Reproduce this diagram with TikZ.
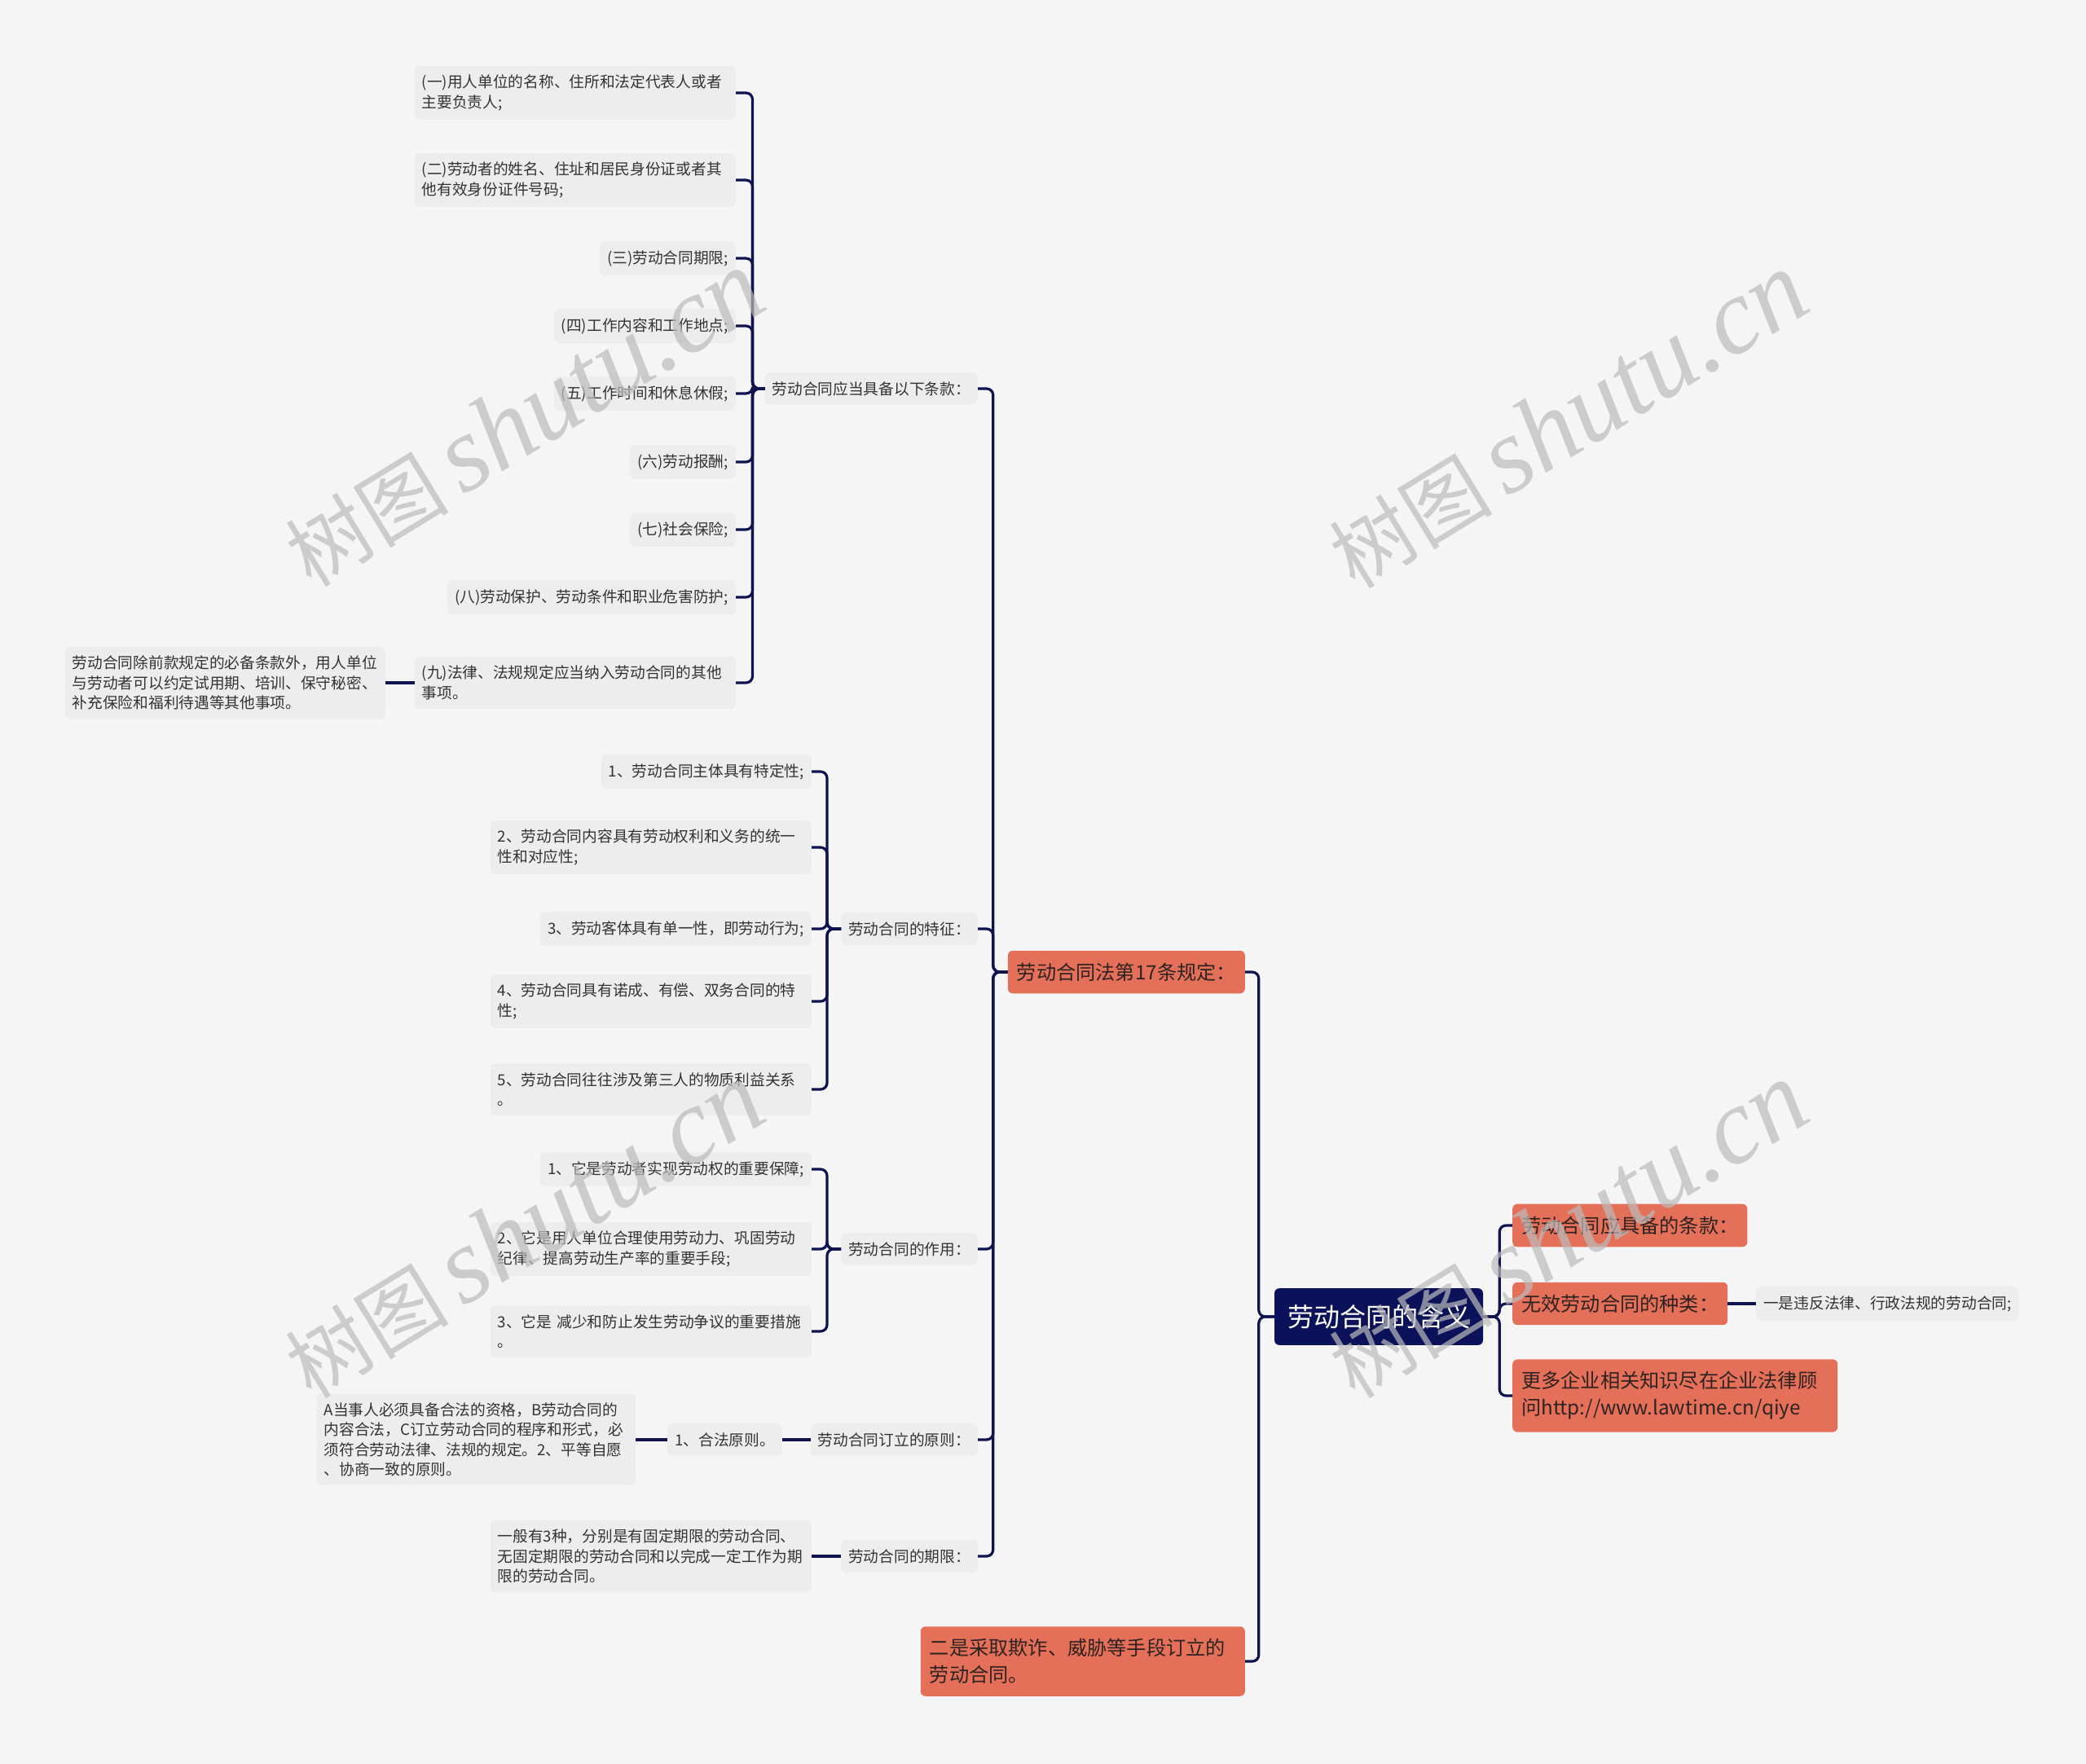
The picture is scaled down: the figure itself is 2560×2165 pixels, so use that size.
\documentclass[tikz,border=0pt]{standalone}
\usepackage{fontspec}
\setmainfont{Noto Sans CJK SC}
\newfontfamily\wmlatin{Liberation Serif}
\usetikzlibrary{positioning}
\definecolor{bg}{HTML}{F5F5F5}
\definecolor{leafgray}{HTML}{EDEDED}
\definecolor{txt}{HTML}{333333}
\definecolor{navy}{HTML}{0F1450}
\definecolor{rootfill}{HTML}{0C1259}
\definecolor{orangefill}{HTML}{E4705A}
\definecolor{otxt}{HTML}{2E2320}
\definecolor{wmgray}{HTML}{BBBBBB}
\tikzset{
  leaf/.style={fill=leafgray, rounded corners=6pt, inner xsep=9pt, inner ysep=11pt,
    font=\fontsize{18.7}{24.5}\selectfont, text=txt, anchor=east},
  mleaf/.style={leaf, align=left, text width=#1},
  obox/.style={fill=orangefill, rounded corners=6pt, inner xsep=11pt, inner ysep=15pt,
    font=\fontsize{24.2}{33}\selectfont, text=otxt},
  rootbox/.style={fill=rootfill, rounded corners=6pt, inner xsep=16pt, inner ysep=20pt,
    font=\fontsize{32}{40}\selectfont, text=white},
  conn/.style={draw=navy, line width=3.2pt, rounded corners=8pt},
  wm/.style={text=wmgray, opacity=0.7, rotate=31.5, inner sep=0pt}
}
\begin{document}
\begin{tikzpicture}[x=1pt,y=-1pt]
\useasboundingbox (0,0) rectangle (2560,2165);
\fill[bg] (0,0) rectangle (2560,2165);

% root
\node[rootbox] (root) at (1692,1616) {劳动合同的含义};

% right side
\node[obox, anchor=west] (r1) at (1856,1504) {劳动合同应具备的条款：};
\node[obox, anchor=west] (r2) at (1856,1600) {无效劳动合同的种类：};
\node[leaf, anchor=west] (r2a) at (2155,1600) {一是违反法律、行政法规的劳动合同;};
\node[obox, anchor=west, align=left, text width=377pt] (r3) at (1856,1713) {更多企业相关知识尽在企业法律顾\\问http://www.lawtime.cn/qiye};

% left of root
\node[obox, anchor=east] (L1) at (1528,1193) {劳动合同法第17条规定：};
\node[obox, anchor=east, align=left, text width=376pt] (L2) at (1528,2039) {二是采取欺诈、威胁等手段订立的\\劳动合同。};

% level 2
\node[leaf] (c) at (1200,477) {劳动合同应当具备以下条款：};
\node[leaf] (f) at (1200,1140) {劳动合同的特征：};
\node[leaf] (z) at (1200,1533) {劳动合同的作用：};
\node[leaf] (p) at (1200,1767) {劳动合同订立的原则：};
\node[leaf] (t) at (1200,1910) {劳动合同的期限：};

% clauses
\node[mleaf=376pt] (c1) at (903,114) {(一)用人单位的名称、住所和法定代表人或者\\主要负责人;};
\node[mleaf=376pt] (c2) at (903,221) {(二)劳动者的姓名、住址和居民身份证或者其\\他有效身份证件号码;};
\node[leaf] (c3) at (903,317) {(三)劳动合同期限;};
\node[leaf] (c4) at (903,400) {(四)工作内容和工作地点;};
\node[leaf] (c5) at (903,483) {(五)工作时间和休息休假;};
\node[leaf] (c6) at (903,567) {(六)劳动报酬;};
\node[leaf] (c7) at (903,650) {(七)社会保险;};
\node[leaf] (c8) at (903,733) {(八)劳动保护、劳动条件和职业危害防护;};
\node[mleaf=376pt] (c9) at (903,838) {(九)法律、法规规定应当纳入劳动合同的其他\\事项。};
\node[mleaf=375pt] (c9a) at (473,838) {劳动合同除前款规定的必备条款外，用人单位\\与劳动者可以约定试用期、培训、保守秘密、\\补充保险和福利待遇等其他事项。};

% features
\node[leaf] (f1) at (996,947) {1、劳动合同主体具有特定性;};
\node[mleaf=376pt] (f2) at (996,1040) {2、劳动合同内容具有劳动权利和义务的统一\\性和对应性;};
\node[leaf] (f3) at (996,1140) {3、劳动客体具有单一性，即劳动行为;};
\node[mleaf=376pt] (f4) at (996,1229) {4、劳动合同具有诺成、有偿、双务合同的特\\性;};
\node[mleaf=376pt] (f5) at (996,1337) {5、劳动合同往往涉及第三人的物质利益关系\\。};

% roles
\node[leaf] (z1) at (996,1435) {1、它是劳动者实现劳动权的重要保障;};
\node[mleaf=376pt] (z2) at (996,1533) {2、它是用人单位合理使用劳动力、巩固劳动\\纪律、提高劳动生产率的重要手段;};
\node[mleaf=376pt] (z3) at (996,1634) {3、它是 减少和防止发生劳动争议的重要措施\\。};

% principles
\node[leaf] (p1) at (960,1767) {1、合法原则。};
\node[mleaf=373pt] (p1a) at (780,1767) {A当事人必须具备合法的资格，B劳动合同的\\内容合法，C订立劳动合同的程序和形式，必\\须符合劳动法律、法规的规定。2、平等自愿\\、协商一致的原则。};

% term
\node[mleaf=376pt] (t1) at (996,1910) {一般有3种，分别是有固定期限的劳动合同、\\无固定期限的劳动合同和以完成一定工作为期\\限的劳动合同。};

% connectors: root
\foreach \n in {L1,L2} \draw[conn] (root.west) -- ++(-19,0) |- (\n.east);
\foreach \n in {r1,r2,r3} \draw[conn] (root.east) -- ++(20,0) |- (\n.west);
\draw[conn] (r2.east) -- (r2a.west);
% L1
\foreach \n in {c,f,z,p,t} \draw[conn] (L1.west) -- ++(-18,0) |- (\n.east);
% clauses
\foreach \n in {c1,c2,c3,c4,c5,c6,c7,c8,c9} \draw[conn] (c.west) -- ++(-15,0) |- (\n.east);
\draw[conn] (c9.west) -- (c9a.east);
% features
\foreach \n in {f1,f2,f3,f4,f5} \draw[conn] (f.west) -- ++(-17,0) |- (\n.east);
% roles
\foreach \n in {z1,z2,z3} \draw[conn] (z.west) -- ++(-17,0) |- (\n.east);
% principles
\draw[conn] (p.west) -- (p1.east);
\draw[conn] (p1.west) -- (p1a.east);
% term
\draw[conn] (t.west) -- (t1.east);

% watermarks
\foreach \p [count=\i] in {(643,514),(1924,516),(643,1510),(1924,1510)}
  \node[wm] (wm\i) at \p {\fontsize{100}{100}\selectfont 树图\hspace{18pt}{\wmlatin\itshape\fontsize{132}{132}\selectfont shutu.cn}};
\end{tikzpicture}
\end{document}
